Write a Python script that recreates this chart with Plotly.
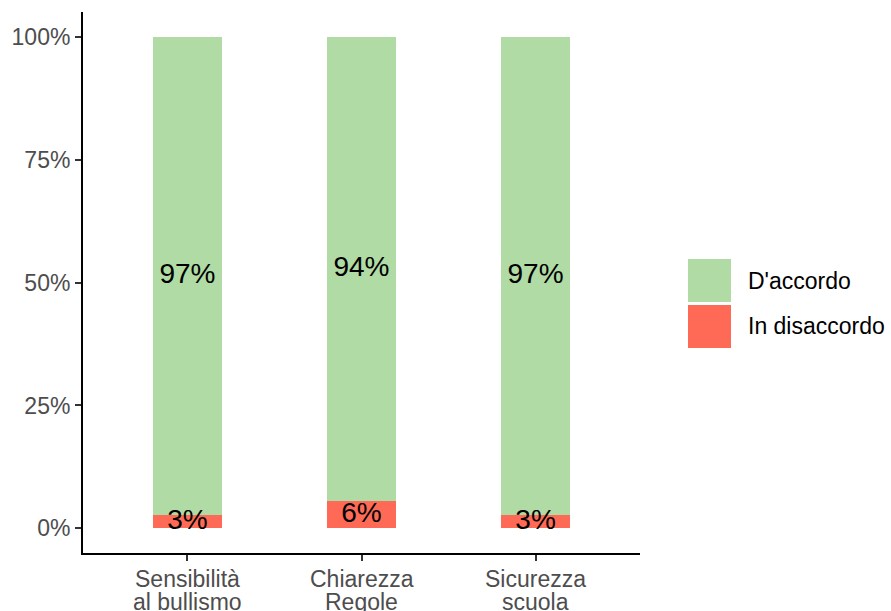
import plotly.graph_objects as go

categories_line1 = ["Sensibilità", "Chiarezza", "Sicurezza"]
categories_line2 = ["al bullismo", "Regole", "scuola"]
disaccordo = [2.7, 5.5, 2.7]
accordo = [97.3, 94.5, 97.3]
accordo_labels = ["97%", "94%", "97%"]
disaccordo_labels = ["3%", "6%", "3%"]
y_ticks = [0, 25, 50, 75, 100]
y_tick_labels = ["0%", "25%", "50%", "75%", "100%"]

GREEN = "#B0DBA4"
RED = "#FF6A56"
FONT = "Liberation Sans, Arial"
xpos = [1, 2, 3]

fig = go.Figure()
fig.add_trace(go.Bar(x=xpos, y=disaccordo, marker=dict(color=RED, line=dict(width=0)),
                     width=0.4, name="In disaccordo", showlegend=False, hoverinfo="skip"))
fig.add_trace(go.Bar(x=xpos, y=accordo, marker=dict(color=GREEN, line=dict(width=0)),
                     width=0.4, name="D'accordo", showlegend=False, hoverinfo="skip"))

mid_dis = [d / 2 for d in disaccordo]
mid_acc = [d + a / 2 for d, a in zip(disaccordo, accordo)]
fig.add_trace(go.Scatter(x=xpos, y=mid_dis, mode="text", text=disaccordo_labels,
                         textfont=dict(size=28, color="black", family=FONT),
                         showlegend=False, hoverinfo="skip", cliponaxis=False))
fig.add_trace(go.Scatter(x=xpos, y=mid_acc, mode="text", text=accordo_labels,
                         textfont=dict(size=28, color="black", family=FONT),
                         showlegend=False, hoverinfo="skip", cliponaxis=False))

W, H = 891, 611
L, R, T, B = 83, 640, 12, 553
pw, ph = R - L, B - T

def px(x):
    return (x - L) / pw

def py(y):
    return (B - y) / ph

legend_items = [("D'accordo", GREEN, 259, 302), ("In disaccordo", RED, 305, 348)]
shapes = []
annotations = []
for label, col, y0, y1 in legend_items:
    shapes.append(dict(type="rect", xref="paper", yref="paper", x0=px(688), x1=px(731),
                       y0=py(y1), y1=py(y0), fillcolor=col, line=dict(width=0)))
    annotations.append(dict(xref="paper", yref="paper", x=px(746), y=py((y0 + y1) / 2),
                            text=label, showarrow=False, xanchor="left", yanchor="middle",
                            font=dict(size=23, color="black", family=FONT)))

for xv, l1, l2 in zip(xpos, categories_line1, categories_line2):
    annotations.append(dict(xref="x", yref="paper", x=xv, y=py(579), text=l1,
                            showarrow=False, xanchor="center", yanchor="middle",
                            font=dict(size=23, color="#4d4d4d", family=FONT)))
    annotations.append(dict(xref="x", yref="paper", x=xv, y=py(602), text=l2,
                            showarrow=False, xanchor="center", yanchor="middle",
                            font=dict(size=23, color="#4d4d4d", family=FONT)))

fig.update_layout(
    width=W, height=H,
    margin=dict(l=L, r=W - R, t=T, b=H - B, pad=0),
    paper_bgcolor="white", plot_bgcolor="white",
    barmode="stack", bargap=0,
    font=dict(family=FONT, size=23, color="#4d4d4d"),
    shapes=shapes, annotations=annotations,
    xaxis=dict(range=[0.4, 3.6], tickvals=xpos, ticktext=["", "", ""], showgrid=False,
               zeroline=False, showline=True, linecolor="black", linewidth=2,
               ticks="outside", ticklen=6, tickwidth=1.5, tickcolor="#333333"),
    yaxis=dict(range=[-5, 105], tickvals=y_ticks, ticktext=y_tick_labels, showgrid=False,
               zeroline=False, showline=True, linecolor="black", linewidth=2,
               ticks="outside", ticklen=6, tickwidth=1.5, tickcolor="#333333",
               tickfont=dict(size=23, color="#4d4d4d")),
)

fig.write_html("out.html", config={"displayModeBar": False},
               post_script="document.body.style.margin='0';document.body.style.overflow='hidden';")
